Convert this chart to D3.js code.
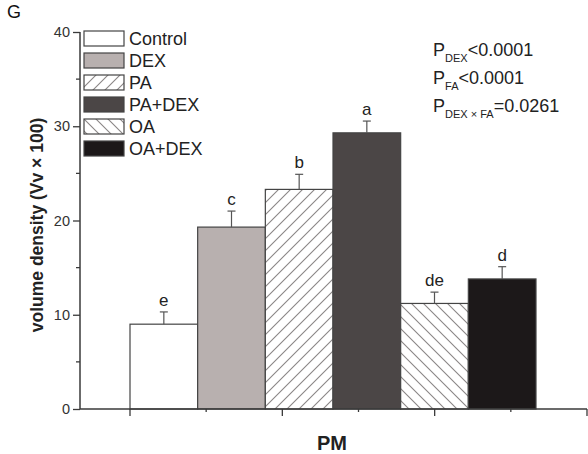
<!DOCTYPE html>
<html>
<head>
<meta charset="utf-8">
<script src="https://cdn.jsdelivr.net/npm/d3@7"></script>
<style>
  body { margin: 0; background: #fff; }
  text { font-family: Arial, "Liberation Sans", sans-serif; }
</style>
</head>
<body>
<svg id="svg_main" width="588" height="454"></svg>
<script>
const groups = ['Control', 'DEX', 'PA', 'PA+DEX', 'OA', 'OA+DEX'];
const means = [9.0, 19.3, 23.3, 29.3, 11.2, 13.8];
const errs = [1.3, 1.7, 1.6, 1.25, 1.2, 1.3];
const letters = ['e', 'c', 'b', 'a', 'de', 'd'];
const fills = ['#ffffff', '#b8b0af', 'url(#hatchR)', '#4b4646', 'url(#hatchL)', '#1c1819'];
const yTicks = [0, 10, 20, 30, 40];
const pLines = [
    {main: 'P', sub: 'DEX', rest: '<0.0001'},
    {main: 'P', sub: 'FA', rest: '<0.0001'},
    {main: 'P', sub: 'DEX \u00d7 FA', rest: '=0.0261'}
];

const axisColor = '#3a3a3a';
const svg = d3.select('#svg_main');

// hatch patterns
const defs = svg.append('defs');
[['hatchR', 'M-3,3 L3,-3 M0,12 L12,0 M9,15 L15,9'],
 ['hatchL', 'M-3,9 L3,15 M0,0 L12,12 M9,-3 L15,3']].forEach(([id, d]) => {
    const p = defs.append('pattern')
        .attr('id', id)
        .attr('patternUnits', 'userSpaceOnUse')
        .attr('width', 12).attr('height', 12);
    p.append('rect').attr('width', 12).attr('height', 12).attr('fill', '#fff');
    p.append('path').attr('d', d).attr('stroke', '#8a8686').attr('stroke-width', 1.1);
});

const y = d3.scaleLinear().domain([0, 40]).range([409, 32]);
const x = d3.scaleBand().domain(groups).range([130, 536]).padding(0);
const xt = d3.scaleLinear().domain([0, 3]).range([130, 587]);
const x0 = 80;

// bars
svg.append('g').selectAll('rect')
    .data(groups)
    .join('rect')
    .attr('x', d => x(d))
    .attr('y', (d, i) => y(means[i]))
    .attr('width', x.bandwidth())
    .attr('height', (d, i) => y(0) - y(means[i]))
    .attr('fill', (d, i) => fills[i])
    .attr('stroke', '#444')
    .attr('stroke-width', 1.2);

// error bars
const eb = svg.append('g').attr('stroke', '#555').attr('stroke-width', 1.2);
groups.forEach((g, i) => {
    const cx = x(g) + x.bandwidth() / 2;
    eb.append('line').attr('x1', cx).attr('x2', cx)
        .attr('y1', y(means[i])).attr('y2', y(means[i] + errs[i]));
    eb.append('line').attr('x1', cx - 4).attr('x2', cx + 4)
        .attr('y1', y(means[i] + errs[i])).attr('y2', y(means[i] + errs[i]));
});

// significance letters
svg.append('g').selectAll('text')
    .data(groups)
    .join('text')
    .attr('x', d => x(d) + x.bandwidth() / 2)
    .attr('y', (d, i) => y(means[i] + errs[i]) - 6)
    .attr('text-anchor', 'middle')
    .attr('font-size', 17)
    .attr('fill', '#222')
    .text((d, i) => letters[i]);

// y axis
const yAxis = svg.append('g').attr('transform', `translate(${x0},0)`);
yAxis.call(d3.axisLeft(y).tickValues(yTicks).tickSize(7).tickPadding(3).tickFormat(d3.format('d')));
yAxis.selectAll('.tick line').attr('stroke', axisColor).attr('stroke-width', 1.3);
yAxis.selectAll('.tick text').attr('font-size', 14.5).attr('fill', '#333')
    .style('font-family', 'Arial, "Liberation Sans", sans-serif');
yAxis.select('.domain').remove();
yAxis.selectAll('.minor').data([5, 15, 25, 35]).join('line')
    .attr('class', 'minor')
    .attr('x1', -4).attr('x2', 0)
    .attr('y1', d => y(d)).attr('y2', d => y(d))
    .attr('stroke', axisColor).attr('stroke-width', 1.3);
svg.append('line')
    .attr('x1', x0).attr('x2', x0)
    .attr('y1', y(40)).attr('y2', y(0))
    .attr('stroke', axisColor).attr('stroke-width', 1.5);

// x axis
svg.append('line')
    .attr('x1', x0).attr('x2', xt(3))
    .attr('y1', y(0)).attr('y2', y(0))
    .attr('stroke', axisColor).attr('stroke-width', 1.5);
svg.append('g').selectAll('line')
    .data(d3.range(0, 3.01, 0.5))
    .join('line')
    .attr('x1', d => xt(d)).attr('x2', d => xt(d))
    .attr('y1', y(0))
    .attr('y2', d => y(0) + (d % 1 === 0 ? 7 : 3))
    .attr('stroke', axisColor).attr('stroke-width', 1.3);

// axis titles
svg.append('text')
    .attr('transform', 'translate(43,225) rotate(-90)')
    .attr('text-anchor', 'middle')
    .attr('font-size', 17.5)
    .attr('font-weight', 'bold')
    .attr('fill', '#222')
    .text('volume density (Vv \u00d7 100)');
svg.append('text')
    .attr('x', 332).attr('y', 450)
    .attr('text-anchor', 'middle')
    .attr('font-size', 20)
    .attr('font-weight', 'bold')
    .attr('fill', '#222')
    .text('PM');
svg.append('text')
    .attr('x', 7).attr('y', 18)
    .attr('font-size', 18)
    .attr('fill', '#111')
    .text('G');

// legend
const leg = svg.append('g').selectAll('g')
    .data(groups)
    .join('g')
    .attr('transform', (d, i) => `translate(84,${31 + i * 22})`);
leg.append('rect')
    .attr('width', 40).attr('height', 15)
    .attr('fill', (d, i) => fills[i])
    .attr('stroke', '#444').attr('stroke-width', 1.2);
leg.append('text')
    .attr('x', 45).attr('y', 14)
    .attr('font-size', 18)
    .attr('fill', '#222')
    .text(d => d);

// p values
const pt = svg.append('g').selectAll('text')
    .data(pLines)
    .join('text')
    .attr('x', 433)
    .attr('y', (d, i) => 56 + i * 28)
    .attr('font-size', 18)
    .attr('fill', '#222');
pt.append('tspan').text(d => d.main);
pt.append('tspan').attr('font-size', 11).attr('dy', 6).text(d => d.sub);
pt.append('tspan').attr('dy', -6).text(d => d.rest);
</script>
</body>
</html>
